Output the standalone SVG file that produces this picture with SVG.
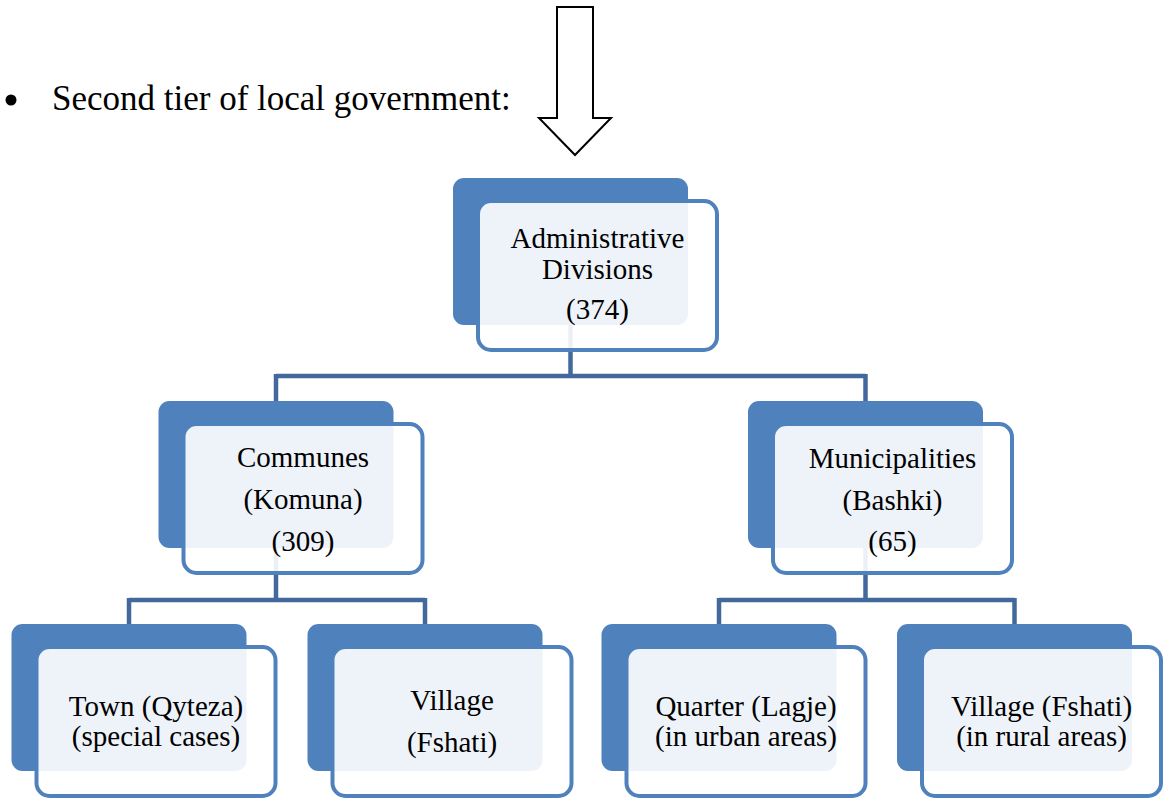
<svg xmlns="http://www.w3.org/2000/svg" width="1165" height="798" viewBox="0 0 1165 798">
<style>
.back{fill:#4F81BD;}
.front{fill:#FFFFFF;fill-opacity:0.9;stroke:#4F81BD;stroke-width:4;}
.conn{fill:none;stroke:#43699C;stroke-width:4.5;}
text{font-family:'Liberation Serif','DejaVu Serif',serif;fill:#000000;}
.t{font-size:29px;text-anchor:middle;}
.h{font-size:35px;}
</style>
<rect width="1165" height="798" fill="#FFFFFF"/>
<g id="header">
<circle cx="11" cy="100" r="5.5" fill="#000"/>
<text class="h" x="52" y="110" font-family="Liberation Serif, serif">Second tier of local government:</text>
</g>
<g id="arrow">
<polygon points="557,7 593,7 593,118 611,118 575,155 539,118 557,118" fill="#FFFFFF" stroke="#000" stroke-width="2"/>
</g>
<g id="connectors">
<path class="conn" d="M570.5,325 V376 M276,376 H865.5 M276,374 V401 M865.5,374 V401"/>
<path class="conn" d="M276,548 V600 M129,600 H425 M129,598 V624 M425,598 V624"/>
<path class="conn" d="M865.5,548 V600 M719,600 H1014.5 M719,598 V624 M1014.5,598 V624"/>
</g>
<g id="node-admin">
<rect class="back" x="453" y="178" width="235" height="147" rx="11"/>
<rect class="front" x="478" y="201" width="239" height="149" rx="13"/>
<text class="t" x="597.5" y="248">Administrative</text>
<text class="t" x="597.5" y="279">Divisions</text>
<text class="t" x="597.5" y="319">(374)</text>
</g>
<g id="node-communes">
<rect class="back" x="158.5" y="401" width="235" height="147" rx="11"/>
<rect class="front" x="183.5" y="424" width="239" height="149" rx="13"/>
<text class="t" x="303" y="467">Communes</text>
<text class="t" x="303" y="509">(Komuna)</text>
<text class="t" x="303" y="551">(309)</text>
</g>
<g id="node-municipalities">
<rect class="back" x="748" y="401" width="235" height="147" rx="11"/>
<rect class="front" x="773" y="424" width="239" height="149" rx="13"/>
<text class="t" x="892.5" y="468">Municipalities</text>
<text class="t" x="892.5" y="510">(Bashki)</text>
<text class="t" x="892.5" y="551">(65)</text>
</g>
<g id="node-town">
<rect class="back" x="11.5" y="624" width="235" height="147" rx="11"/>
<rect class="front" x="36.5" y="647" width="239" height="149" rx="13"/>
<text class="t" x="156" y="716">Town (Qyteza)</text>
<text class="t" x="156" y="746">(special cases)</text>
</g>
<g id="node-village1">
<rect class="back" x="307.5" y="624" width="235" height="147" rx="11"/>
<rect class="front" x="332.5" y="647" width="239" height="149" rx="13"/>
<text class="t" x="452" y="710">Village</text>
<text class="t" x="452" y="752">(Fshati)</text>
</g>
<g id="node-quarter">
<rect class="back" x="601.5" y="624" width="235" height="147" rx="11"/>
<rect class="front" x="626.5" y="647" width="239" height="149" rx="13"/>
<text class="t" x="746" y="716">Quarter (Lagje)</text>
<text class="t" x="746" y="746">(in urban areas)</text>
</g>
<g id="node-village2">
<rect class="back" x="897" y="624" width="235" height="147" rx="11"/>
<rect class="front" x="922" y="647" width="239" height="149" rx="13"/>
<text class="t" x="1041.5" y="716">Village (Fshati)</text>
<text class="t" x="1041.5" y="746">(in rural areas)</text>
</g>
</svg>
